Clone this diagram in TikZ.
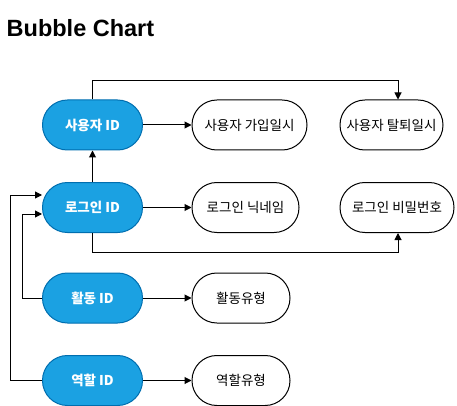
\documentclass[tikz,border=0pt]{standalone}
\usepackage{fontspec}
\setmainfont{Liberation Sans}
\newfontfamily\kr{Noto Sans CJK KR}
\usetikzlibrary{arrows.meta,calc}
\definecolor{bfill}{HTML}{1BA1E2}
\definecolor{bdraw}{HTML}{006EAF}
\begin{document}
\begin{tikzpicture}[x=1pt,y=-1pt,
  bubble/.style={rectangle,rounded corners=24.9pt,minimum height=50pt,inner sep=0pt,line width=1pt,font=\kr\fontsize{13.5pt}{15pt}\selectfont},
  keyb/.style={bubble,fill=bfill,draw=bdraw,text=white,minimum width=100pt,font=\kr\bfseries\fontsize{13.5pt}{15pt}\selectfont},
  attr/.style={bubble,fill=white,draw=black},
  arr/.style={line width=1pt,-{Triangle[length=7pt,width=7pt]}}]
\useasboundingbox (0,0) rectangle (457,406);
\node[anchor=base west,inner sep=0pt,font=\bfseries\fontsize{23.5pt}{26pt}\selectfont] (title) at (6.5,36.7) {Bubble Chart};
\node[keyb] (uid) at (92.5,125) {사용자 ID};
\node[keyb] (lid) at (92.5,207.5) {로그인 ID};
\node[keyb] (aid) at (92.5,298) {활동 ID};
\node[keyb] (rid) at (92.5,380.5) {역할 ID};
\node[attr,minimum width=115pt] (join) at (249.5,125) {사용자 가입일시};
\node[attr,minimum width=103pt] (quit) at (391.5,125) {사용자 탈퇴일시};
\node[attr,minimum width=107pt] (nick) at (245.5,207.5) {로그인 닉네임};
\node[attr,minimum width=114pt] (pw) at (397,207.5) {로그인 비밀번호};
\node[attr,minimum width=98pt] (atype) at (241,298) {활동유형};
\node[attr,minimum width=98pt] (rtype) at (241,380.5) {역할유형};
\coordinate (q) at (398,80.7);
\coordinate (p) at (398,252);
\draw[arr] (uid.east) -- (join.west);
\draw[arr] (lid.east) -- (nick.west);
\draw[arr] (aid.east) -- (atype.west);
\draw[arr] (rid.east) -- (rtype.west);
\draw[arr] (lid.north) -- (uid.south);
\draw[arr] (uid.north) |- (q) -- (quit.north -| q);
\draw[arr] (lid.south) |- (p) -- (pw.south -| p);
\draw[arr] (aid.west) -- ++(-20,0) |- ($(lid.west)+(0,6.5)$);
\draw[arr] (rid.west) -- ++(-31.5,0) |- ($(lid.west)+(0,-12.5)$);
\end{tikzpicture}
\end{document}
